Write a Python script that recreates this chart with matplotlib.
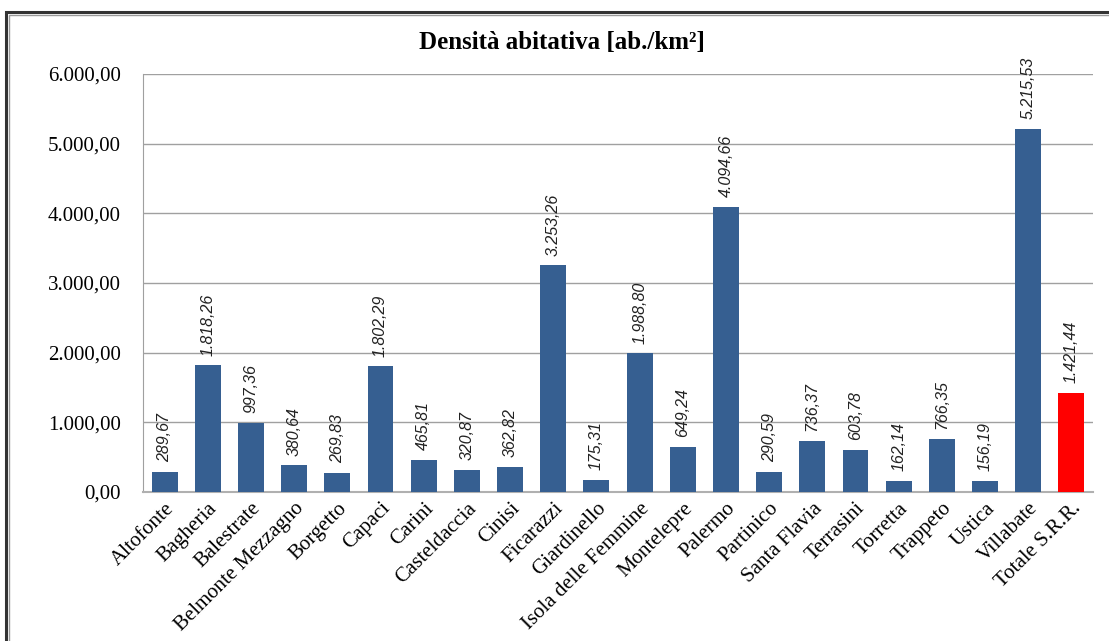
import matplotlib.pyplot as plt
from matplotlib.patches import Rectangle
from matplotlib.ticker import FuncFormatter

comuni = ['Altofonte', 'Bagheria', 'Balestrate', 'Belmonte Mezzagno', 'Borgetto',
          'Capaci', 'Carini', 'Casteldaccia', 'Cinisi', 'Ficarazzi', 'Giardinello',
          'Isola delle Femmine', 'Montelepre', 'Palermo', 'Partinico',
          'Santa Flavia', 'Terrasini', 'Torretta', 'Trappeto', 'Ustica',
          'Villabate', 'Totale S.R.R.']
densita = [289.67, 1818.26, 997.36, 380.64, 269.83, 1802.29, 465.81, 320.87,
           362.82, 3253.26, 175.31, 1988.80, 649.24, 4094.66, 290.59, 736.37,
           603.78, 162.14, 766.35, 156.19, 5215.53, 1421.44]
y_ticks = [0, 1000, 2000, 3000, 4000, 5000, 6000]


def fmt_it(v, dec=2):
    # formato numerico italiano: 1.234,56
    s = f'{v:,.{dec}f}'
    return s.replace(',', 'X').replace('.', ',').replace('X', '.')


plt.rcParams['font.family'] = ['Liberation Serif', 'DejaVu Serif']

fig = plt.figure(figsize=(11.09, 6.41), dpi=100)
ax = fig.add_axes([143 / 1109, 1 - 492 / 641, (1093 - 143) / 1109, (492 - 74) / 641])

colori = ['#365F91'] * (len(comuni) - 1) + ['#FF0000']
x = range(len(comuni))
bars = ax.bar(x, densita, width=0.6, color=colori, zorder=3)

for b, v in zip(bars, densita):
    ax.annotate(fmt_it(v), (b.get_x() + b.get_width() / 2, v),
                xytext=(0, 7), textcoords='offset points',
                rotation=90, ha='center', va='bottom', fontsize=11.5,
                style='italic', family=['Liberation Sans Narrow', 'Liberation Sans'],
                color='#222222')

ax.set_xlim(-0.5, len(comuni) - 0.5)
ax.set_ylim(0, 6000)
ax.set_yticks(y_ticks)
ax.yaxis.set_major_formatter(FuncFormatter(lambda v, p: fmt_it(v)))
ax.tick_params(axis='y', length=0, pad=16, labelsize=15)
ax.tick_params(axis='x', length=0, pad=5)
ax.set_xticks(list(x))
ax.set_xticklabels(comuni, rotation=45, ha='right', rotation_mode='anchor',
                   fontsize=15)
ax.grid(axis='y', color='#a0a0a0', linewidth=1, zorder=0)

for s in ['top', 'right']:
    ax.spines[s].set_visible(False)
ax.spines['left'].set_color('#a0a0a0')
ax.spines['bottom'].set_color('#b0b0b0')
ax.spines['bottom'].set_linewidth(1.5)

fig.text(562 / 1109, 1 - 42 / 641, 'Densità abitativa [ab./km²]',
         ha='center', va='center', fontsize=18, fontweight='bold')

# cornice esterna
fig.patches.append(Rectangle((6 / 1109, -0.1), 1.2, 1 - 12 / 641 + 0.1,
                             transform=fig.transFigure, fill=False,
                             edgecolor='#333333', linewidth=2.2))
fig.patches.append(Rectangle((9 / 1109, -0.1), 1.2, 1 - 15 / 641 + 0.1,
                             transform=fig.transFigure, fill=False,
                             edgecolor='#999999', linewidth=1))

fig.savefig('out.png', dpi=100)
